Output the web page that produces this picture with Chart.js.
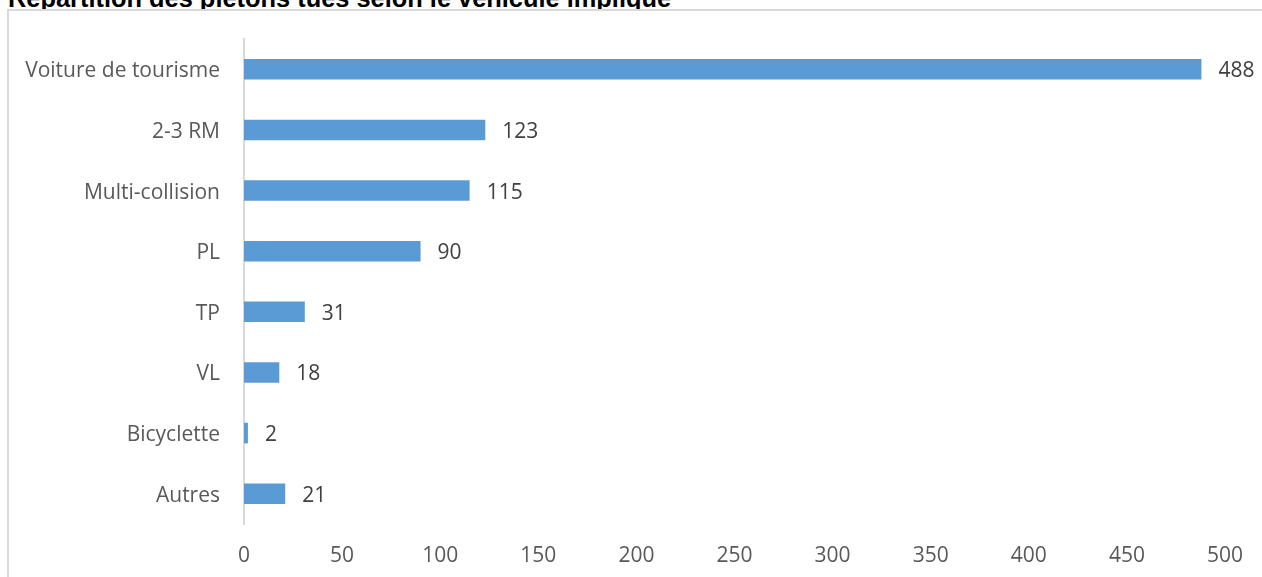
<!DOCTYPE html>
<html lang="fr">
<head>
<meta charset="utf-8">
<title>Répartition des piétons tués selon le véhicule impliqué</title>
<script src="https://cdn.jsdelivr.net/npm/chart.js@4.4.1/dist/chart.umd.min.js"></script>
<style>
    html, body { margin: 0; padding: 0; background: #fff; overflow: hidden; }
    body { width: 1262px; height: 577px; position: relative; }
    #titre {
        position: absolute; left: 8px; top: -14px;
        font: bold 25.4px "Liberation Sans", Arial, sans-serif;
        line-height: 25px; color: #000; white-space: nowrap;
    }
    #cadre {
        position: absolute; left: 7px; top: 9px; width: 1400px; height: 700px;
        border: 2px solid #d9d9d9; background: #fff;
    }
    #pietons { position: absolute; left: 0; top: 0; }
</style>
</head>
<body>
<div id="titre">Répartition des piétons tués selon le véhicule impliqué</div>
<div id="cadre"></div>
<canvas id="pietons" width="1262" height="577"></canvas>
<script>
    // Catégories de véhicules et nombre de piétons tués
    const vehicules = ['Voiture de tourisme', '2-3 RM', 'Multi-collision', 'PL', 'TP', 'VL', 'Bicyclette', 'Autres'];
    const tues = [488, 123, 115, 90, 31, 18, 2, 21];

    // Axe des valeurs
    const axeMin = 0;
    const axeMax = 500;
    const axePas = 50;

    const police = '"Open Sans", "Noto Sans", sans-serif';
    const taille = 21;

    // Valeurs écrites au bout de chaque barre
    const etiquettes = {
        id: 'etiquettes',
        afterDatasetsDraw(chart) {
            const ctx = chart.ctx;
            const meta = chart.getDatasetMeta(0);
            ctx.save();
            ctx.font = taille + 'px ' + police;
            ctx.fillStyle = '#404040';
            ctx.textAlign = 'left';
            ctx.textBaseline = 'middle';
            meta.data.forEach((bar, i) => {
                ctx.fillText(tues[i], bar.x + 17, bar.y + 2);
            });
            ctx.restore();
        }
    };

    const data = {
        labels: vehicules,
        datasets: [{
            label: 'Piétons tués',
            data: tues,
            backgroundColor: '#5b9bd5',
            borderWidth: 0,
            categoryPercentage: 1,
            barPercentage: 0.34
        }]
    };

    const config = {
        type: 'bar',
        data: data,
        options: {
            indexAxis: 'y',
            responsive: false,
            animation: false,
            layout: {
                padding: { left: 0, right: 35, top: 39, bottom: 0 }
            },
            plugins: {
                legend: { display: false },
                tooltip: { enabled: false }
            },
            scales: {
                x: {
                    min: axeMin,
                    max: axeMax,
                    grid: { display: false, drawTicks: false },
                    border: { display: false },
                    ticks: {
                        stepSize: axePas,
                        padding: 19,
                        color: '#595959',
                        font: { family: police, size: taille }
                    },
                    afterFit(scale) { scale.height = 53; }
                },
                y: {
                    grid: { display: false, drawTicks: false },
                    border: { display: true, color: '#d9d9d9', width: 2 },
                    ticks: {
                        padding: 24,
                        labelOffset: 2,
                        color: '#595959',
                        font: { family: police, size: taille }
                    },
                    afterFit(scale) { scale.width = 244; }
                }
            }
        },
        plugins: [etiquettes]
    };

    const graphique = new Chart(document.getElementById('pietons'), config);
</script>
</body>
</html>
